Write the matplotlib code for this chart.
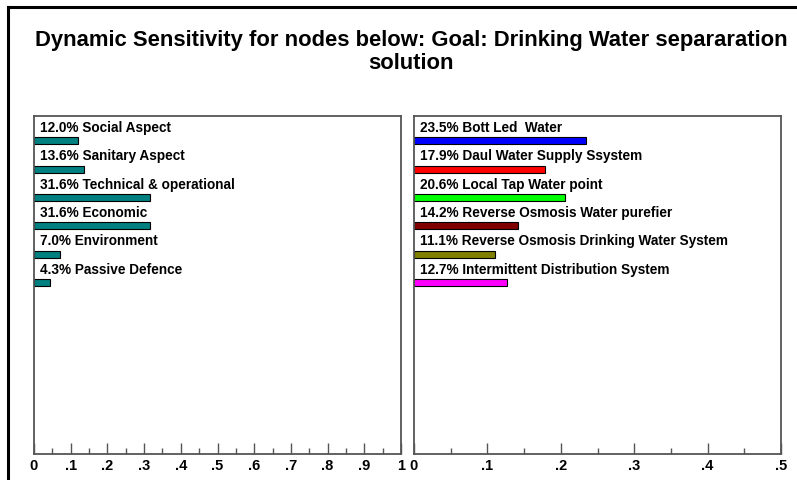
import matplotlib.pyplot as plt
from matplotlib.lines import Line2D
from matplotlib.ticker import MultipleLocator, FuncFormatter

# criteria (left panel)
crit_names = ["Social Aspect", "Sanitary Aspect", "Technical & operational",
              "Economic", "Environment", "Passive Defence"]
crit_values = [0.120, 0.136, 0.316, 0.316, 0.070, 0.043]

# alternatives (right panel)
alt_names = ["Bott Led  Water", "Daul Water Supply Ssystem", "Local Tap Water point",
             "Reverse Osmosis Water purefier", "Reverse Osmosis Drinking Water System",
             "Intermittent Distribution System"]
alt_values = [0.235, 0.179, 0.206, 0.142, 0.111, 0.127]
alt_colors = ["#0000ff", "#ff0000", "#00ff00", "#800000", "#808000", "#ff00ff"]

title = "Dynamic Sensitivity for nodes below: Goal: Drinking Water separaration\nsolution"

W, H = 797, 481
fig = plt.figure(figsize=(W / 100, H / 100), dpi=100)
fig.patch.set_facecolor("white")

# outer frame lines (left and top)
fig.add_artist(Line2D([8 / W, 8 / W], [0, 1 - 8 / H], color="black", lw=2.2))
fig.add_artist(Line2D([8 / W, 1], [1 - 8 / H, 1 - 8 / H], color="black", lw=2.2))

fig.text(411 / W, 1 - 52 / H, title, ha="center", va="center",
         fontsize=15.8, fontweight="bold", family="Liberation Sans", linespacing=1.15)

label_font = dict(family="Liberation Sans", fontsize=9.8, fontweight="bold")
tick_font = ["Liberation Sans Narrow", "Liberation Sans"]

def fmt(v, pos):
    if abs(v) < 1e-9:
        return "0"
    if abs(v - 1) < 1e-9:
        return "1"
    return ("%.1f" % v)[1:]

def panel(rect, names, values, colors, xmax):
    ax = fig.add_axes(rect)
    nrows = 11.94
    y = [0.88 + i for i in range(len(values))]
    ax.barh(y, values, height=0.25, color=colors, edgecolor="black", linewidth=0.8)
    for yi, n, v in zip(y, names, values):
        ax.text(xmax * 0.015, yi - 0.49, "%.1f%% %s" % (v * 100, n), va="center", ha="left",
                **label_font)
    ax.set_xlim(0, xmax)
    ax.set_ylim(nrows, 0)
    ax.set_yticks([])
    ax.xaxis.set_major_locator(MultipleLocator(0.1))
    ax.xaxis.set_minor_locator(MultipleLocator(0.05))
    ax.xaxis.set_major_formatter(FuncFormatter(fmt))
    ax.tick_params(axis="x", which="major", direction="in", length=8, width=1, color="#555555", pad=3)
    ax.tick_params(axis="x", which="minor", direction="in", length=4, width=1, color="#555555")
    for lab in ax.get_xticklabels():
        lab.set_family(tick_font)
        lab.set_fontweight("bold")
        lab.set_fontsize(10.5)
    for s in ax.spines.values():
        s.set_color("#555555")
        s.set_linewidth(1.3)
    return ax

bottom = 1 - 455 / H
height = 338 / H
panel([34 / W, bottom, 367 / W, height], crit_names, crit_values, ["#008080"] * 6, 1.0)
panel([414 / W, bottom, 367 / W, height], alt_names, alt_values, alt_colors, 0.5)

fig.savefig("out.png", dpi=100)
